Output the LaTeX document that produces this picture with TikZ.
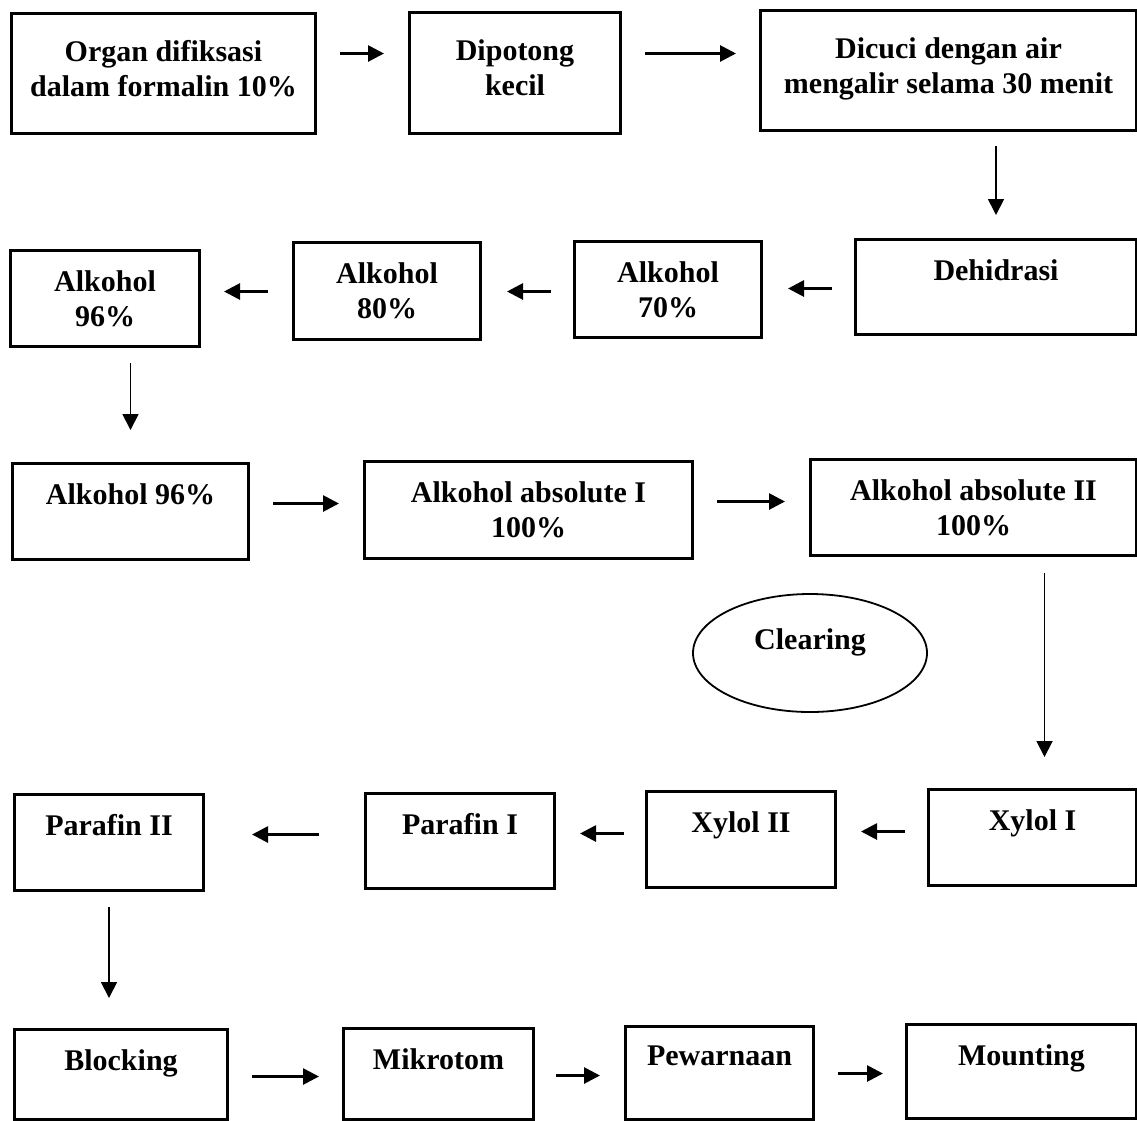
\documentclass[tikz,border=0pt]{standalone}
\usepackage{fontspec}
\setmainfont{Liberation Serif}
\usetikzlibrary{arrows.meta, shapes.geometric}

\begin{document}
\begin{tikzpicture}[x = 1pt, y = -1pt, > = {Triangle[length = 16pt, width = 16pt]}, font = \fontsize{30}{35}\selectfont\bfseries]
\tikzset{
  block/.style 2 args = {draw, line width = 3pt, fill = white, rectangle, anchor = north west, inner sep = 0pt, minimum width = #1, minimum height = #2},
  boxText/.style = {anchor = north, align = center, inner sep = 0pt, yshift = -21pt},
  firstRow/.style = {yshift = -7pt},
  oval/.style = {draw, ellipse, line width = 1.8pt, inner sep = 0pt, minimum width = 234pt, minimum height = 118pt},
  flow/.style = {->, line width = 2.8pt},
  drop/.style = {->, line width = 1.8pt},
}
\useasboundingbox (0,0) rectangle (1137,1120);
\node [block = {304pt}{120pt}, label = {[boxText, firstRow]north:{Organ difiksasi\\dalam formalin 10\%}}] (organFixed) at (10,12) {};
\node [block = {211pt}{121pt}, label = {[boxText, firstRow]north:{Dipotong\\kecil}}] (dipotong) at (408,11) {};
\node [block = {376pt}{120pt}, label = {[boxText, firstRow]north:{Dicuci dengan air\\mengalir selama 30 menit}}] (dicuci) at (759,9) {};
\node [block = {281pt}{95pt}, label = {[boxText]north:Dehidrasi}] (dehidrasi) at (854,238) {};
\node [block = {187pt}{96pt}, label = {[boxText]north:{Alkohol\\70\%}}] (alkohol70) at (573,240) {};
\node [block = {187pt}{97pt}, label = {[boxText]north:{Alkohol\\80\%}}] (alkohol80) at (292,241) {};
\node [block = {189pt}{96pt}, label = {[boxText]north:{Alkohol\\96\%}}] (alkohol96a) at (9,249) {};
\node [block = {236pt}{96pt}, label = {[boxText]north:Alkohol 96\%}] (alkohol96b) at (11,462) {};
\node [block = {328pt}{97pt}, label = {[boxText]north:{Alkohol absolute I\\100\%}}] (absoluteOne) at (363,460) {};
\node [block = {326pt}{96pt}, label = {[boxText]north:{Alkohol absolute II\\100\%}}] (absoluteTwo) at (809,458) {};
\node [oval, label = {[boxText, yshift = -14.6pt]north:Clearing}] (clearing) at (810,653) {};
\node [block = {208pt}{96pt}, label = {[boxText]north:Xylol I}] (xylolOne) at (927,788) {};
\node [block = {189pt}{96pt}, label = {[boxText]north:Xylol II}] (xylolTwo) at (645,790) {};
\node [block = {189pt}{95pt}, label = {[boxText]north:Parafin I}] (parafinOne) at (364,792) {};
\node [block = {189pt}{96pt}, label = {[boxText]north:Parafin II}] (parafinTwo) at (13,793) {};
\node [block = {213pt}{90pt}, label = {[boxText]north:Blocking}] (blocking) at (13,1028) {};
\node [block = {190pt}{91pt}, label = {[boxText]north:Mikrotom}] (mikrotom) at (342,1027) {};
\node [block = {188pt}{93pt}, label = {[boxText]north:Pewarnaan}] (pewarnaan) at (624,1025) {};
\node [block = {230pt}{94pt}, label = {[boxText]north:Mounting}] (mounting) at (905,1023) {};
\draw [flow, shorten <= 23pt, shorten >= 24pt] ([yshift = 20pt]organFixed.east) -- ([yshift = 19.5pt]dipotong.west);
\draw [flow, shorten <= 23pt, shorten >= 23pt] ([yshift = 19.5pt]dipotong.east) -- ([yshift = 17pt]dicuci.west);
\draw [drop, shorten <= 14pt, shorten >= 23pt] (dicuci.south -| dehidrasi.north) -- (dehidrasi.north);
\draw [flow, shorten <= 22pt, shorten >= 25pt] ([yshift = -1.5pt]dehidrasi.west) -- ([yshift = 1pt]alkohol70.east);
\draw [flow, shorten <= 22pt, shorten >= 25pt] ([yshift = -2pt]alkohol70.west) -- ([yshift = -0.5pt]alkohol80.east);
\draw [flow, shorten <= 24pt, shorten >= 23pt] ([yshift = -0.5pt]alkohol80.west) -- ([yshift = 7pt]alkohol96a.east);
\draw [drop, shorten <= 15pt, shorten >= 32pt] (alkohol96a.south -| alkohol96b.north) -- (alkohol96b.north);
\draw [flow, shorten <= 23pt, shorten >= 24pt] ([yshift = 8pt]alkohol96b.east) -- ([yshift = 6.5pt]absoluteOne.west);
\draw [flow, shorten <= 23pt, shorten >= 24pt] ([yshift = 8.5pt]absoluteOne.east) -- ([yshift = 6pt]absoluteTwo.west);
\draw [drop, shorten <= 16pt, shorten >= 31pt] ([xshift = 71pt]absoluteTwo.south) -- ([xshift = 12pt]xylolOne.north);
\draw [flow, shorten <= 22pt, shorten >= 24pt] ([yshift = 6pt]xylolOne.west) -- ([yshift = 8pt]xylolTwo.east);
\draw [flow, shorten <= 21pt, shorten >= 24pt] ([yshift = 6pt]xylolTwo.west) -- ([yshift = 7.5pt]parafinOne.east);
\draw [flow, shorten <= 45pt, shorten >= 47pt] ([yshift = 6.5pt]parafinOne.west) -- ([yshift = 8pt]parafinTwo.east);
\draw [drop, shorten <= 15pt, shorten >= 30pt] (parafinTwo.south) -- (parafinTwo.south |- blocking.north);
\draw [flow, shorten <= 23pt, shorten >= 23pt] ([yshift = -2pt]blocking.east) -- ([yshift = -2.5pt]mikrotom.west);
\draw [flow, shorten <= 21pt, shorten >= 24pt] ([yshift = -1.5pt]mikrotom.east) -- ([yshift = -2.5pt]pewarnaan.west);
\draw [flow, shorten <= 23pt, shorten >= 22pt] ([yshift = -0.5pt]pewarnaan.east) -- ([yshift = -2pt]mounting.west);
\end{tikzpicture}
\end{document}
